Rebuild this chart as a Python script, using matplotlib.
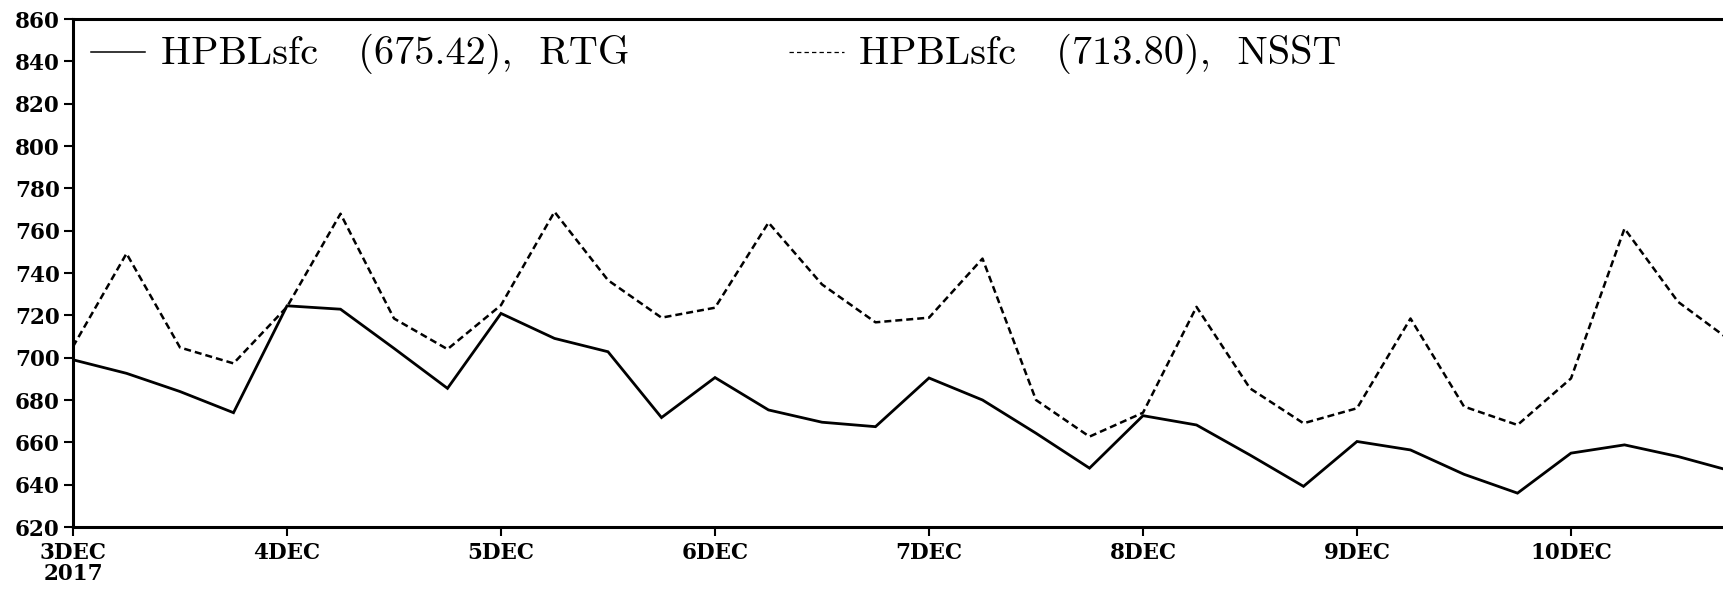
import matplotlib
matplotlib.use("Agg")
import matplotlib.pyplot as plt
from matplotlib.lines import Line2D
import numpy as np

# 6-hourly surface PBL height, 3 Dec 2017 00Z to 10 Dec 2017 18Z
hours = np.arange(32) * 6
hpbl_rtg = [699.0, 692.6, 684.0, 674.0, 724.5, 722.9, 704.4, 685.5,
            720.9, 709.1, 702.8, 671.7, 690.6, 675.3, 669.5, 667.4,
            690.4, 680.0, 664.3, 647.8, 672.6, 668.2, 654.0, 639.2,
            660.4, 656.4, 644.9, 636.0, 654.9, 658.8, 653.3, 646.4]
hpbl_nsst = [705.2, 749.2, 704.8, 697.3, 724.0, 768.0, 718.5, 704.0,
             724.8, 768.9, 736.6, 718.9, 723.6, 763.8, 734.6, 716.7,
             718.9, 746.8, 680.0, 662.7, 674.0, 724.0, 685.5, 669.0,
             676.1, 718.5, 676.9, 668.2, 690.2, 761.0, 726.4, 707.7]

day_ticks = [0, 1, 2, 3, 4, 5, 6, 7]
day_labels = ["3DEC\n2017", "4DEC", "5DEC", "6DEC", "7DEC", "8DEC", "9DEC", "10DEC"]
y_ticks = list(range(620, 861, 20))

label_rtg = "HPBLsfc   (675.42),  RTG"
label_nsst = "HPBLsfc   (713.80),  NSST"

W, H = 1723, 590
fig = plt.figure(figsize=(W / 100, H / 100), dpi=100)
left_px, right_px, top_px, bot_px = 73, 1723, 19, 527
ax = fig.add_axes([left_px / W, (H - bot_px) / H,
                   (right_px - left_px) / W, (bot_px - top_px) / H])

days = np.array(hours) / 24.0
ax.plot(days, hpbl_rtg, color="black", lw=2.0, solid_joinstyle="miter")
ax.plot(days, hpbl_nsst, color="black", lw=1.8, dashes=(2.8, 1.6))

ax.set_xlim(0, (right_px - left_px) / 214.0)
ax.set_ylim(620, 860)

for s in ("left", "bottom", "top"):
    ax.spines[s].set_linewidth(2.2)
ax.spines["right"].set_visible(False)

tick_font = dict(family="DejaVu Serif", weight="bold", size=15.5)
ax.set_yticks(y_ticks)
ax.set_yticklabels([str(v) for v in y_ticks], **tick_font)
ax.set_xticks(day_ticks)
ax.set_xticklabels(day_labels, linespacing=0.95, **tick_font)
ax.tick_params(axis="both", direction="out", length=6.5, width=1.5,
               color="black")
ax.tick_params(axis="y", pad=3)
ax.tick_params(axis="x", pad=4)

# legend drawn as text with short sample lines inside the top of the axes
def px_to_axes(x, y):
    return ((x - left_px) / (right_px - left_px),
            (bot_px - y) / (bot_px - top_px))

x0, y0 = px_to_axes(91, 52)
x1, _ = px_to_axes(145, 52)
ax.add_line(Line2D([x0, x1], [y0, y0], transform=ax.transAxes,
                   color="black", lw=1.1))
tx, ty = px_to_axes(161, 64)
ax.text(tx, ty, label_rtg, transform=ax.transAxes, family="cmr10",
        size=29, va="baseline", ha="left")

x0, y0 = px_to_axes(789, 52)
x1, _ = px_to_axes(844, 52)
ax.add_line(Line2D([x0, x1], [y0, y0], transform=ax.transAxes,
                   color="black", lw=0.9, dashes=(3.5, 2.5)))
tx, ty = px_to_axes(859, 64)
ax.text(tx, ty, label_nsst, transform=ax.transAxes, family="cmr10",
        size=29, va="baseline", ha="left")

fig.savefig("out.png", dpi=100, facecolor="white")
